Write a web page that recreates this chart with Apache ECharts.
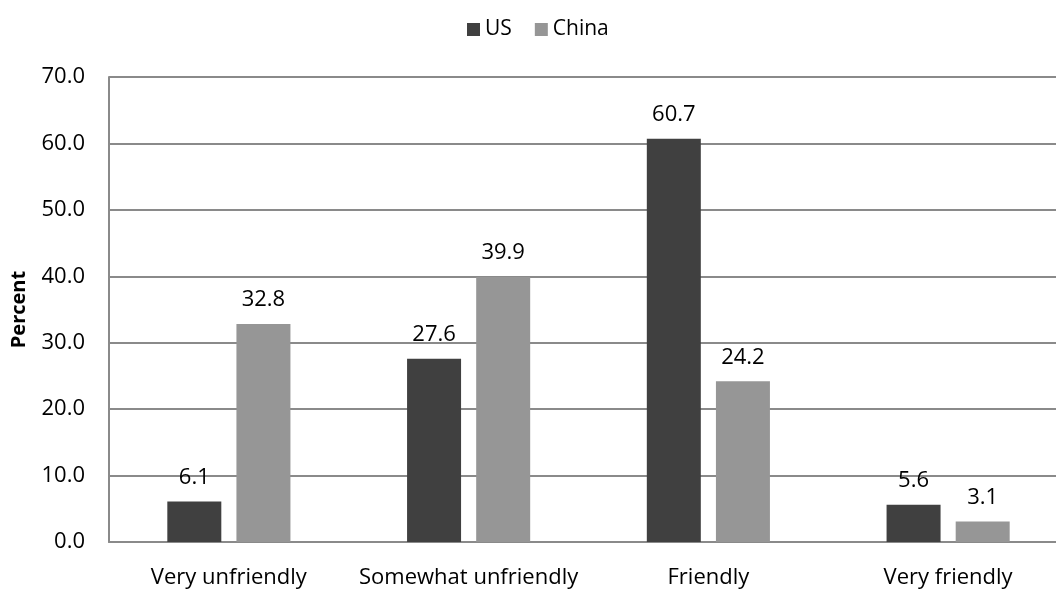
<!DOCTYPE html>
<html>
<head>
<meta charset="utf-8">
<script src="https://cdn.jsdelivr.net/npm/echarts@6/dist/echarts.min.js"></script>
<style>
  html, body { margin: 0; padding: 0; background: #fff; }
  #chart { width: 1056px; height: 589px; }
</style>
</head>
<body>
<div id="chart"></div>
<script>
// Attitude categories and percentages per country
const categories = ['Very unfriendly', 'Somewhat unfriendly', 'Friendly', 'Very friendly'];
const usValues = [6.1, 27.6, 60.7, 5.6];
const chinaValues = [32.8, 39.9, 24.2, 3.1];
const yTicks = { min: 0, max: 70, interval: 10 };

const FONT = '"Open Sans", "Noto Sans", sans-serif';
const chart = echarts.init(document.getElementById('chart'), null, { renderer: 'canvas' });

const labelStyle = {
  show: true,
  position: 'top',
  distance: 13,
  fontFamily: FONT,
  fontSize: 22,
  color: '#000',
  formatter: p => p.value.toFixed(1)
};

chart.setOption({
  animation: false,
  textStyle: { fontFamily: FONT },
  legend: {
    data: ['US', 'China'],
    top: 14,
    left: 462,
    itemWidth: 13,
    itemHeight: 13,
    itemGap: 23,
    icon: 'rect',
    textStyle: { fontFamily: FONT, fontSize: 21, color: '#000' }
  },
  // plot area runs slightly past the right edge of the canvas
  grid: {
    left: 109, width: 959, top: 77, bottom: 47,
    containLabel: false,
    outerBoundsMode: 'none'
  },
  xAxis: {
    type: 'category',
    data: categories,
    axisLine: { show: true, lineStyle: { color: '#8a8a8a', width: 2 } },
    axisTick: { show: false },
    axisLabel: { interval: 0, fontFamily: FONT, fontSize: 22, color: '#000', margin: 25 }
  },
  yAxis: {
    type: 'value',
    min: yTicks.min,
    max: yTicks.max,
    interval: yTicks.interval,
    name: 'Percent',
    nameLocation: 'middle',
    nameGap: 80,
    nameRotate: 90,
    nameTextStyle: { fontFamily: FONT, fontSize: 20, fontWeight: 'bold', color: '#000' },
    axisLine: { show: true, lineStyle: { color: '#8a8a8a', width: 2 } },
    axisTick: { show: false },
    axisLabel: { fontFamily: FONT, fontSize: 22, color: '#000', margin: 24, formatter: v => v.toFixed(1) },
    splitLine: { show: true, lineStyle: { color: '#8a8a8a', width: 2 } }
  },
  series: [
    {
      name: 'US',
      type: 'bar',
      data: usValues,
      barWidth: 54,
      barGap: '28%',
      itemStyle: { color: '#404040' },
      label: labelStyle
    },
    {
      name: 'China',
      type: 'bar',
      data: chinaValues,
      barWidth: 54,
      itemStyle: { color: '#969696' },
      label: labelStyle
    }
  ]
});
</script>
</body>
</html>
